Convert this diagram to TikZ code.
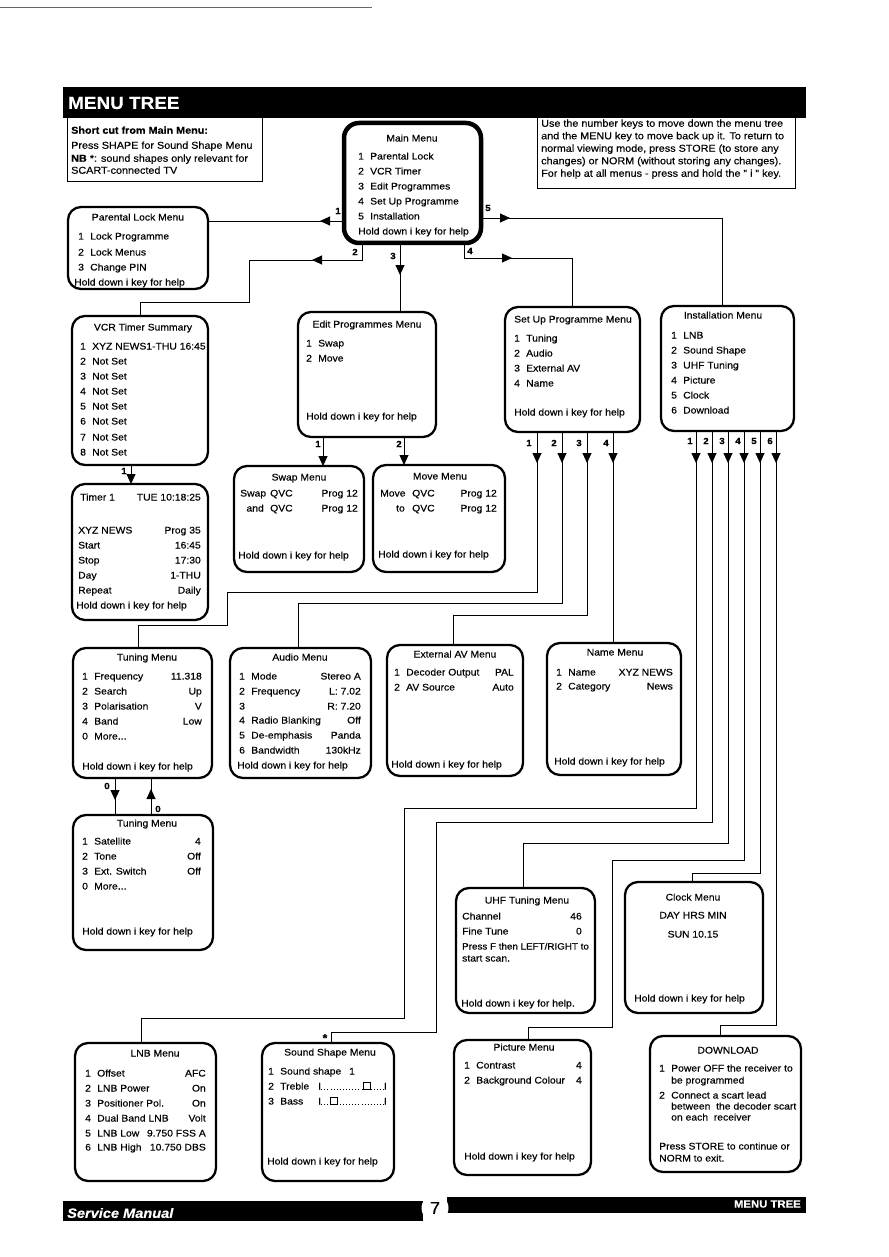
\documentclass[tikz,border=0pt]{standalone}
\usepackage{fontspec}
\setmainfont{Liberation Sans}[FakeStretch=1.08,FakeBold=0.3]
\usetikzlibrary{arrows.meta,decorations.markings}
\newcommand\nm[1]{\makebox[12pt][l]{#1}}
\begin{document}
\begin{tikzpicture}[x=1pt,y=-1pt,
  mbox/.style={draw, line width=2.3pt, rounded corners=13pt, anchor=north west, inner sep=0pt, outer sep=0pt},
  t/.style={anchor=west, inner sep=0pt, font=\fontsize{9.6}{11}\selectfont, text height=7pt, text depth=2pt},
  tr/.style={t, anchor=east},
  tc/.style={t, anchor=center},
  hs/.style={anchor=west, inner sep=0pt, font=\fontsize{10}{12}\selectfont, text height=7.5pt, text depth=2pt},
  conn/.style={line width=0.9pt},
  ma/.style={postaction={decorate,decoration={markings,mark=at position #1 with {\arrow{Triangle[length=10pt,width=9pt]}}}}},
  tip/.style={-{Triangle[length=10pt,width=9pt]}},
  lab/.style={inner sep=0pt, font=\bfseries\fontsize{9}{10}\selectfont},
  sq/.style={draw, fill=white, line width=0.6pt, minimum size=6.5pt, inner sep=0pt},
  dotline/.style={line width=0.9pt, dash pattern=on 0.9pt off 2.2pt},
  bar/.style={fill=black, anchor=north west, inner sep=0pt, outer sep=0pt}
]
\useasboundingbox (0,0) rectangle (888,1257);
\fill[white] (0,0) rectangle (888,1257);
\draw[black!60, line width=0.6pt] (0,7) -- (372,7);

% header
\node[bar, minimum width=743pt, minimum height=31pt] (hdr) at (63,87) {};
\node[anchor=west, text=white, inner sep=0pt, font=\bfseries\fontsize{17.5}{18}\selectfont] (hdrt) at (68,103) {MENU TREE};

\node[draw, line width=0.8pt, anchor=north west, minimum width=195pt, minimum height=64pt, inner sep=0pt, outer sep=0pt] (sc) at (67,117) {};
\node[hs] (sc1) at (71,131) {\textbf{Short cut from Main Menu:}};
\node[hs] (sc2) at (71,146) {Press SHAPE for Sound Shape Menu};
\node[hs] (sc3) at (71,159) {\textbf{NB} *: sound shapes only relevant for};
\node[hs] (sc4) at (71,171) {SCART-connected TV};

\node[draw, line width=0.8pt, anchor=north west, minimum width=258pt, minimum height=71pt, inner sep=0pt, outer sep=0pt] (rb) at (537,117) {};
\node[hs] (rb1) at (541,124) {Use the number keys to move down the menu tree};
\node[hs] (rb2) at (541,136.5) {and the MENU key to move back up it. To return to};
\node[hs] (rb3) at (541,149) {normal viewing mode, press STORE (to store any};
\node[hs] (rb4) at (541,161.5) {changes) or NORM (without storing any changes).};
\node[hs] (rb5) at (541,174) {For help at all menus - press and hold the " i " key.};

% Main menu
\node[mbox, line width=4.5pt, rounded corners=15pt, minimum width=137pt, minimum height=120pt] (main) at (344,123) {};
\node[tc] (mt) at (412,139) {Main Menu};
\node[t] (m1) at (358,157) {\nm{1}Parental Lock};
\node[t] (m2) at (358,172) {\nm{2}VCR Timer};
\node[t] (m3) at (358,187) {\nm{3}Edit Programmes};
\node[t] (m4) at (358,202) {\nm{4}Set Up Programme};
\node[t] (m5) at (358,217) {\nm{5}Installation};
\node[t] (mh) at (358,232) {Hold down i key for help};

% Parental lock
\node[mbox, minimum width=140pt, minimum height=82pt] (parental) at (68,207) {};
\node[tc] (pt) at (138,218) {Parental Lock Menu};
\node[t] (p1) at (78,237) {\nm{1}Lock Programme};
\node[t] (p2) at (78,253) {\nm{2}Lock Menus};
\node[t] (p3) at (78,268) {\nm{3}Change PIN};
\node[t] (ph) at (74,283) {Hold down i key for help};

% VCR timer summary
\node[mbox, minimum width=136pt, minimum height=149pt] (vcr) at (72,316) {};
\node[tc] (vt) at (143,328) {VCR Timer Summary};
\node[t] (v1) at (80,347) {\nm{1}XYZ NEWS1-THU 16:45};
\node[t] (v2) at (80,362) {\nm{2}Not Set};
\node[t] (v3) at (80,377) {\nm{3}Not Set};
\node[t] (v4) at (80,392) {\nm{4}Not Set};
\node[t] (v5) at (80,407) {\nm{5}Not Set};
\node[t] (v6) at (80,422) {\nm{6}Not Set};
\node[t] (v7) at (80,438) {\nm{7}Not Set};
\node[t] (v8) at (80,453) {\nm{8}Not Set};

% Timer 1
\node[mbox, minimum width=136pt, minimum height=136pt] (timer) at (72,484) {};
\node[t] (ti1) at (80,498) {Timer 1};
\node[tr] (ti1v) at (201,498) {TUE 10:18:25};
\node[t] (ti2) at (78,531) {XYZ NEWS};
\node[tr] (ti2v) at (201,531) {Prog 35};
\node[t] (ti3) at (78,546) {Start};
\node[tr] (ti3v) at (201,546) {16:45};
\node[t] (ti4) at (78,561) {Stop};
\node[tr] (ti4v) at (201,561) {17:30};
\node[t] (ti5) at (78,576) {Day};
\node[tr] (ti5v) at (201,576) {1-THU};
\node[t] (ti6) at (78,591) {Repeat};
\node[tr] (ti6v) at (201,591) {Daily};
\node[t] (tih) at (76,606) {Hold down i key for help};

% Edit programmes
\node[mbox, minimum width=138pt, minimum height=125pt] (edit) at (298,312) {};
\node[tc] (et) at (367,325) {Edit Programmes Menu};
\node[t] (e1) at (306,344) {\nm{1}Swap};
\node[t] (e2) at (306,359) {\nm{2}Move};
\node[t] (eh) at (306,417) {Hold down i key for help};

% Swap
\node[mbox, minimum width=130pt, minimum height=106pt] (swap) at (234,466) {};
\node[tc] (swt) at (299,478) {Swap Menu};
\node[t] (sw1) at (240,494) {Swap};
\node[t] (sw1q) at (270,494) {QVC};
\node[tr] (sw1v) at (358,494) {Prog 12};
\node[tr] (sw2) at (264,509) {and};
\node[t] (sw2q) at (270,509) {QVC};
\node[tr] (sw2v) at (358,509) {Prog 12};
\node[t] (swh) at (238,556) {Hold down i key for help};

% Move
\node[mbox, minimum width=132pt, minimum height=107pt] (move) at (373,465) {};
\node[tc] (mvt) at (440,477) {Move Menu};
\node[t] (mv1) at (380,494) {Move};
\node[t] (mv1q) at (412,494) {QVC};
\node[tr] (mv1v) at (497,494) {Prog 12};
\node[tr] (mv2) at (405,509) {to};
\node[t] (mv2q) at (412,509) {QVC};
\node[tr] (mv2v) at (497,509) {Prog 12};
\node[t] (mvh) at (378,555) {Hold down i key for help};

% Set up programme
\node[mbox, minimum width=135pt, minimum height=125pt] (setup) at (505,307) {};
\node[tc] (st) at (573,320) {Set Up Programme Menu};
\node[t] (s1) at (514,339) {\nm{1}Tuning};
\node[t] (s2) at (514,354) {\nm{2}Audio};
\node[t] (s3) at (514,369) {\nm{3}External AV};
\node[t] (s4) at (514,384) {\nm{4}Name};
\node[t] (sh) at (514,413) {Hold down i key for help};

% Installation
\node[mbox, minimum width=133pt, minimum height=125pt] (install) at (661,306) {};
\node[tc] (it) at (723,316) {Installation Menu};
\node[t] (i1) at (671,336) {\nm{1}LNB};
\node[t] (i2) at (671,351) {\nm{2}Sound Shape};
\node[t] (i3) at (671,366) {\nm{3}UHF Tuning};
\node[t] (i4) at (671,381) {\nm{4}Picture};
\node[t] (i5) at (671,396) {\nm{5}Clock};
\node[t] (i6) at (671,411) {\nm{6}Download};

% Tuning
\node[mbox, minimum width=139pt, minimum height=130pt] (tuning) at (73,648) {};
\node[tc] (tut) at (147,658) {Tuning Menu};
\node[t] (tu1) at (82,677) {\nm{1}Frequency};
\node[tr] (tu1v) at (202,677) {11.318};
\node[t] (tu2) at (82,692) {\nm{2}Search};
\node[tr] (tu2v) at (202,692) {Up};
\node[t] (tu3) at (82,707) {\nm{3}Polarisation};
\node[tr] (tu3v) at (202,707) {V};
\node[t] (tu4) at (82,722) {\nm{4}Band};
\node[tr] (tu4v) at (202,722) {Low};
\node[t] (tu5) at (82,737) {\nm{0}More...};
\node[t] (tuh) at (82,767) {Hold down i key for help};

% Audio
\node[mbox, minimum width=141pt, minimum height=130pt] (audio) at (230,648) {};
\node[tc] (aut) at (300,658) {Audio Menu};
\node[t] (au1) at (239,677) {\nm{1}Mode};
\node[tr] (au1v) at (361,677) {Stereo A};
\node[t] (au2) at (239,692) {\nm{2}Frequency};
\node[tr] (au2v) at (361,692) {L: 7.02};
\node[t] (au3) at (239,707) {\nm{3}};
\node[tr] (au3v) at (361,707) {R: 7.20};
\node[t] (au4) at (239,721) {\nm{4}Radio Blanking};
\node[tr] (au4v) at (361,721) {Off};
\node[t] (au5) at (239,736) {\nm{5}De-emphasis};
\node[tr] (au5v) at (361,736) {Panda};
\node[t] (au6) at (239,751) {\nm{6}Bandwidth};
\node[tr] (au6v) at (361,751) {130kHz};
\node[t] (auh) at (237,766) {Hold down i key for help};

% External AV
\node[mbox, minimum width=136pt, minimum height=131pt] (extav) at (387,645) {};
\node[tc] (xt) at (455,655) {External AV Menu};
\node[t] (x1) at (394,673) {\nm{1}Decoder Output};
\node[tr] (x1v) at (514,673) {PAL};
\node[t] (x2) at (394,688) {\nm{2}AV Source};
\node[tr] (x2v) at (514,688) {Auto};
\node[t] (xh) at (391,765) {Hold down i key for help};

% Name
\node[mbox, minimum width=134pt, minimum height=132pt] (name) at (547,643) {};
\node[tc] (nt) at (615,653) {Name Menu};
\node[t] (n1) at (556,673) {\nm{1}Name};
\node[tr] (n1v) at (673,673) {XYZ NEWS};
\node[t] (n2) at (556,687) {\nm{2}Category};
\node[tr] (n2v) at (673,687) {News};
\node[t] (nh) at (554,762) {Hold down i key for help};

% Tuning 2
\node[mbox, minimum width=140pt, minimum height=135pt] (tuning2) at (73,815) {};
\node[tc] (uut) at (147,824) {Tuning Menu};
\node[t] (uu1) at (82,842) {\nm{1}Satellite};
\node[tr] (uu1v) at (201,842) {4};
\node[t] (uu2) at (82,857) {\nm{2}Tone};
\node[tr] (uu2v) at (201,857) {Off};
\node[t] (uu3) at (82,872) {\nm{3}Ext. Switch};
\node[tr] (uu3v) at (201,872) {Off};
\node[t] (uu4) at (82,887) {\nm{0}More...};
\node[t] (uuh) at (82,932) {Hold down i key for help};

% UHF
\node[mbox, minimum width=139pt, minimum height=125pt] (uhf) at (456,888) {};
\node[tc] (ht) at (527,901) {UHF Tuning Menu};
\node[t] (h1) at (462,917) {Channel};
\node[tr] (h1v) at (582,917) {46};
\node[t] (h2) at (462,932) {Fine Tune};
\node[tr] (h2v) at (582,932) {0};
\node[t, font=\fontsize{9.1}{11}\selectfont] (h3) at (462,947) {Press F then LEFT/RIGHT to};
\node[t] (h4) at (462,959) {start scan.};
\node[t] (hh) at (461,1004) {Hold down i key for help.};

% Clock
\node[mbox, minimum width=138pt, minimum height=131pt] (clock) at (625,882) {};
\node[tc] (ct) at (693,898) {Clock Menu};
\node[tc] (c1) at (693,916) {DAY HRS MIN};
\node[tc] (c2) at (693,935) {SUN 10.15};
\node[t] (ch) at (634,999) {Hold down i key for help};

% LNB
\node[mbox, minimum width=141pt, minimum height=138pt] (lnb) at (75,1043) {};
\node[tc] (lt) at (155,1054) {LNB Menu};
\node[t] (l1) at (85,1074) {\nm{1}Offset};
\node[tr] (l1v) at (206,1074) {AFC};
\node[t] (l2) at (85,1089) {\nm{2}LNB Power};
\node[tr] (l2v) at (206,1089) {On};
\node[t] (l3) at (85,1104) {\nm{3}Positioner Pol.};
\node[tr] (l3v) at (206,1104) {On};
\node[t] (l4) at (85,1119) {\nm{4}Dual Band LNB};
\node[tr] (l4v) at (206,1119) {Volt};
\node[t] (l5) at (85,1134) {\nm{5}LNB Low};
\node[tr] (l5v) at (206,1134) {9.750 FSS A};
\node[t] (l6) at (85,1148) {\nm{6}LNB High};
\node[tr] (l6v) at (206,1148) {10.750 DBS};

% Sound shape
\node[mbox, minimum width=132pt, minimum height=138pt] (sound) at (262,1043) {};
\node[tc] (sst) at (330,1053) {Sound Shape Menu};
\node[t] (ss1) at (268,1072) {\nm{1}Sound shape};
\node[t] (ss1v) at (349,1072) {1};
\node[t] (ss2) at (268,1087) {\nm{2}Treble};
\node[t] (trA) at (318,1087) {I};
\node[tr] (trB) at (387,1087) {I};
\draw[dotline] (trA.base east) -- (trB.base west);
\node[sq] (trS) at (367,1086) {};
\node[t] (ss3) at (268,1102) {\nm{3}Bass};
\node[t] (bsA) at (318,1102) {I};
\node[tr] (bsB) at (387,1102) {I};
\draw[dotline] (bsA.base east) -- (bsB.base west);
\node[sq] (bsS) at (334,1101) {};
\node[t] (ssh) at (267,1162) {Hold down i key for help};

% Picture
\node[mbox, minimum width=137pt, minimum height=135pt] (picture) at (454,1040) {};
\node[tc] (pct) at (524,1048) {Picture Menu};
\node[t] (pc1) at (464,1066) {\nm{1}Contrast};
\node[tr] (pc1v) at (582,1066) {4};
\node[t] (pc2) at (464,1081) {\nm{2}Background Colour};
\node[tr] (pc2v) at (582,1081) {4};
\node[t] (pch) at (464,1157) {Hold down i key for help};

% Download
\node[mbox, minimum width=151pt, minimum height=136pt] (download) at (650,1036) {};
\node[tc] (dt) at (728,1051) {DOWNLOAD};
\node[t] (d1) at (659,1069) {\nm{1}Power OFF the receiver to};
\node[t] (d2) at (671,1081) {be programmed};
\node[t] (d3) at (659,1096) {\nm{2}Connect a scart lead};
\node[t] (d4) at (671,1107) {between\ \ the decoder scart};
\node[t] (d5) at (671,1118) {on each\ \ receiver};
\node[t] (d6) at (659,1147) {Press STORE to continue or};
\node[t] (d7) at (659,1159) {NORM to exit.};

% connectors from main menu
\draw[conn, ma=24pt] (main.west |- 0,221) -- (parental.east |- 0,221);
\draw[conn, ma=67pt] (362,0 |- main.south) -- (362,260) -- (249,260) -- (249,302) -- (140,302) -- (140,0 |- vcr.north);
\draw[conn, ma=32pt] (400,0 |- main.south) -- (400,0 |- edit.north);
\draw[conn, ma=63pt] (464,0 |- main.south) -- (464,258) -- (572,258) -- (572,0 |- setup.north);
\draw[conn, ma=29pt] (main.east |- 0,218) -- (722,218) -- (722,0 |- install.north);
\node[lab] (lb1) at (338,211) {1};
\node[lab] (lb2) at (355,252) {2};
\node[lab] (lb3) at (393,256) {3};
\node[lab] (lb4) at (470,251) {4};
\node[lab] (lb5) at (488,208) {5};

% VCR -> timer
\draw[conn, tip] (131,0 |- vcr.south) -- (131,0 |- timer.north);
\node[lab] (lbv) at (124,471) {1};

% edit -> swap/move
\draw[conn, tip] (323,0 |- edit.south) -- (323,0 |- swap.north);
\draw[conn, tip] (404,0 |- edit.south) -- (404,0 |- move.north);
\node[lab] (lbe1) at (318,444) {1};
\node[lab] (lbe2) at (399,444) {2};

% set up -> submenus
\draw[conn, ma=31pt] (537,0 |- setup.south) -- (537,592) -- (227,592) -- (227,625) -- (138,625) -- (138,0 |- tuning.north);
\draw[conn, ma=31pt] (562,0 |- setup.south) -- (562,603) -- (298,603) -- (298,0 |- audio.north);
\draw[conn, ma=31pt] (587,0 |- setup.south) -- (587,615) -- (453,615) -- (453,0 |- extav.north);
\draw[conn, ma=31pt] (613,0 |- setup.south) -- (613,0 |- name.north);
\node[lab] (lbs1) at (529,443) {1};
\node[lab] (lbs2) at (554,443) {2};
\node[lab] (lbs3) at (579,443) {3};
\node[lab] (lbs4) at (606,443) {4};

% installation -> submenus
\draw[conn, ma=32pt] (696,0 |- install.south) -- (696,808) -- (404,808) -- (404,1018) -- (141,1018) -- (141,0 |- lnb.north);
\draw[conn, ma=32pt] (712,0 |- install.south) -- (712,822) -- (436,822) -- (436,1032) -- (331,1032) -- (331,0 |- sound.north);
\draw[conn, ma=32pt] (728,0 |- install.south) -- (728,843) -- (523,843) -- (523,0 |- uhf.north);
\draw[conn, ma=32pt] (744,0 |- install.south) -- (744,860) -- (612,860) -- (612,1027) -- (528,1027) -- (528,0 |- picture.north);
\draw[conn, ma=32pt] (760,0 |- install.south) -- (760,873) -- (692,873) -- (692,0 |- clock.north);
\draw[conn, ma=32pt] (776,0 |- install.south) -- (776,1025) -- (720,1025) -- (720,0 |- download.north);
\node[lab] (lbi1) at (690,441) {1};
\node[lab] (lbi2) at (706,441) {2};
\node[lab] (lbi3) at (722,441) {3};
\node[lab] (lbi4) at (738,441) {4};
\node[lab] (lbi5) at (754,441) {5};
\node[lab] (lbi6) at (770,441) {6};
\node[lab, font=\bfseries\fontsize{11}{11}\selectfont] (star) at (325,1038) {*};

% tuning <-> tuning 2
\draw[conn, ma=22pt] (115,0 |- tuning.south) -- (115,0 |- tuning2.north);
\draw[conn, ma=26pt] (151,0 |- tuning2.north) -- (151,0 |- tuning.south);
\node[lab] (lbt1) at (107,786) {0};
\node[lab] (lbt2) at (158,809) {0};

% footer
\node[bar, minimum width=360pt, minimum height=20pt] (ftl) at (63,1201) {};
\node[bar, minimum width=359pt, minimum height=16pt] (ftr) at (447,1197) {};
\node[circle, fill=white, minimum size=27pt, inner sep=0pt] (pg) at (435,1208) {\fontsize{17}{17}\selectfont 7};
\node[anchor=west, text=white, inner sep=0pt, font=\bfseries\itshape\fontsize{13.5}{14}\selectfont] (svc) at (67,1213) {Service Manual};
\node[anchor=east, text=white, inner sep=0pt, font=\bfseries\fontsize{10.5}{11}\selectfont] (ftt) at (801,1204) {MENU TREE};
\end{tikzpicture}
\end{document}
